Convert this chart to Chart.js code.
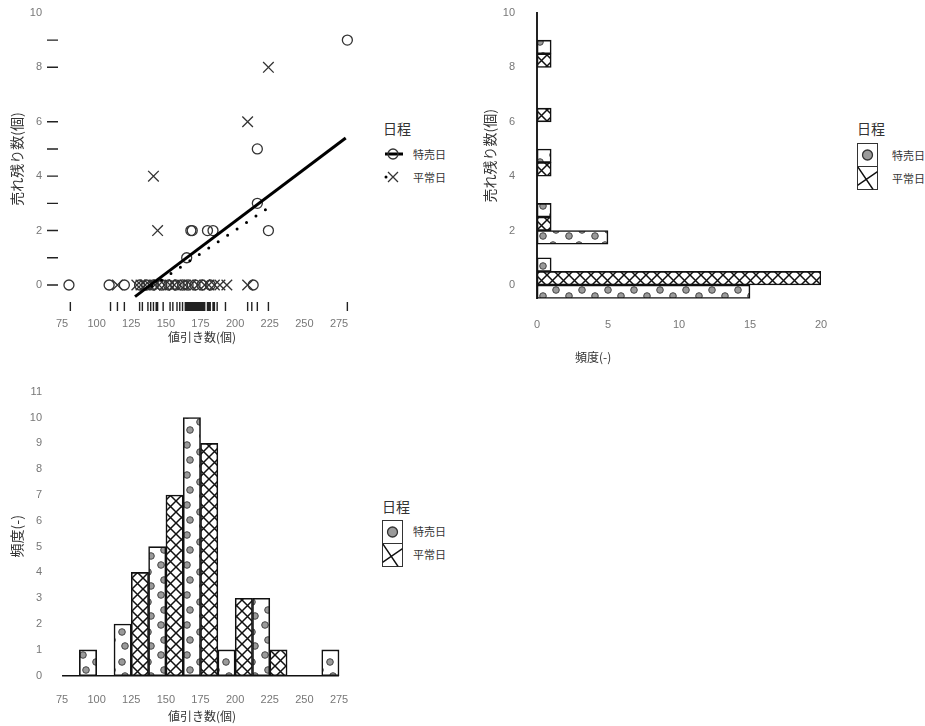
<!DOCTYPE html>
<html>
<head>
<meta charset="utf-8">
<script src="https://cdn.jsdelivr.net/npm/chart.js@4.4.1/dist/chart.umd.min.js"></script>
<style>
  body { margin: 0; background: #fff; width: 925px; height: 726px; position: relative; overflow: hidden;
         font-family: 'Liberation Sans', 'Noto Sans CJK JP', sans-serif; }
  canvas.panel { position: absolute; }
  .txt { position: absolute; color: #333; white-space: nowrap; font-family: 'Noto Sans CJK JP', sans-serif; }
  .lgTitle { font-size: 14px; line-height: 18px; }
  .lgLabel { font-size: 11px; line-height: 14px; }
  .axTitle { font-size: 12px; line-height: 14px; }
  canvas.sw { position: absolute; }
</style>
</head>
<body>
<canvas id="scatter" class="panel" width="370" height="350" style="left:0;top:0"></canvas>
<canvas id="leftover" class="panel" width="370" height="372" style="left:470px;top:0"></canvas>
<canvas id="discount" class="panel" width="370" height="346" style="left:0;top:380px"></canvas>

<!-- legend: scatter -->
<div class="txt lgTitle" style="left:383px;top:119px">日程</div>
<canvas id="swSaleLine" class="sw" width="22" height="14" style="left:383px;top:147px"></canvas>
<div class="txt lgLabel" style="left:413px;top:147px">特売日</div>
<canvas id="swNormalLine" class="sw" width="22" height="14" style="left:383px;top:170px"></canvas>
<div class="txt lgLabel" style="left:413px;top:170px">平常日</div>

<!-- legend: leftover histogram -->
<div class="txt lgTitle" style="left:857px;top:119px">日程</div>
<canvas id="swLeftover" class="sw" width="22" height="48" style="left:856px;top:142px"></canvas>
<div class="txt lgLabel" style="left:892px;top:148px">特売日</div>
<div class="txt lgLabel" style="left:892px;top:171px">平常日</div>
<div class="txt axTitle" style="left:575px;top:350px">頻度(-)</div>

<!-- legend: discount histogram -->
<div class="txt lgTitle" style="left:382px;top:497px">日程</div>
<canvas id="swDiscount" class="sw" width="22" height="48" style="left:381px;top:519px"></canvas>
<div class="txt lgLabel" style="left:413px;top:524px">特売日</div>
<div class="txt lgLabel" style="left:413px;top:547px">平常日</div>

<script>
// ---------- data ----------
const xTicks = [75, 100, 125, 150, 175, 200, 225, 250, 275];
const leftoverTicks = [0, 2, 4, 6, 8, 10];
const freqTicks = [0, 5, 10, 15, 20];
const histTicks = [0, 1, 2, 3, 4, 5, 6, 7, 8, 9, 10, 11];

// 特売日: discount count vs leftover count
const saleX = [80, 109, 120, 131, 136, 141, 147, 152, 157, 162, 166, 171, 176, 182, 213,
               165, 168, 169, 180, 184, 224, 216, 216, 281];
const saleY = [0, 0, 0, 0, 0, 0, 0, 0, 0, 0, 0, 0, 0, 0, 0,
               1, 2, 2, 2, 2, 2, 3, 5, 9];
// 平常日
const normalX = [115, 129, 132, 135, 138, 142, 145, 149, 153, 156, 160, 164, 168, 173, 178, 181, 185, 189, 194, 209,
                 144, 141, 209, 224];
const normalY = [0, 0, 0, 0, 0, 0, 0, 0, 0, 0, 0, 0, 0, 0, 0, 0, 0, 0, 0, 0,
                 2, 4, 6, 8];

// fitted lines
const saleFitX = [127.7, 279.8];
const saleFitY = [-0.43, 5.4];
const normalFitX = [140, 223.7];
const normalFitY = [-0.05, 2.83];

// marginal rugs
const rugX = [81, 110, 115, 120, 131, 133, 137, 139, 141, 143, 144, 148, 153, 155, 158, 160, 162, 164, 165, 166,
              167, 168, 169, 170, 171, 172, 173, 174, 175, 176, 177, 178, 180, 181, 182, 184, 185, 187, 193,
              209, 212, 216, 224, 281];
const rugY = [0, 1, 2, 3, 4, 5, 6, 8, 9];

// frequency of leftover count
const leftoverLevels = [0, 1, 2, 3, 4, 5, 6, 7, 8, 9];
const saleLeftoverFreq = [15, 1, 5, 1, 0, 1, 0, 0, 0, 1];
const normalLeftoverFreq = [20, 0, 1, 0, 1, 0, 1, 0, 1, 0];

// frequency of discount count
const binCenters = [100, 125, 150, 175, 200, 225, 250, 275];
const saleBinFreq = [1, 2, 5, 10, 1, 3, 0, 1];
const normalBinFreq = [0, 4, 7, 9, 3, 1, 0, 0];

// ---------- styling helpers ----------
const latin = "'Liberation Sans', 'Noto Sans CJK JP', sans-serif";
const cjk = "'Noto Sans CJK JP', sans-serif";
const tickFont = { family: latin, size: 11 };
const titleFont = { family: cjk, size: 12 };
const yTitleFont = { family: cjk, size: 14 };
const tickColor = '#777';
const titleColor = '#333';

function fixedTicks(list) {
  return scale => { scale.ticks = list.map(v => ({ value: v })); };
}
// fixed axis thickness, no extra room reserved for overhanging labels
function fixedSize(prop, size) {
  return scale => {
    scale[prop] = size;
    scale.paddingTop = 0; scale.paddingBottom = 0;
    scale.paddingLeft = 0; scale.paddingRight = 0;
  };
}

function dotPattern(ctx) {
  const c = document.createElement('canvas');
  c.width = 26; c.height = 30;
  const g = c.getContext('2d');
  g.fillStyle = '#fff'; g.fillRect(0, 0, c.width, c.height);
  g.fillStyle = '#9a9a9a'; g.strokeStyle = '#444'; g.lineWidth = 1;
  [[5, 5], [18, 12], [8, 20], [21, 26]].forEach(([x, y]) => {
    g.beginPath(); g.arc(x, y, 3.3, 0, Math.PI * 2); g.fill(); g.stroke();
  });
  return ctx.createPattern(c, 'repeat');
}

function hatchPattern(ctx) {
  const s = 11;
  const c = document.createElement('canvas');
  c.width = s; c.height = s;
  const g = c.getContext('2d');
  g.fillStyle = '#fff'; g.fillRect(0, 0, s, s);
  g.strokeStyle = '#111'; g.lineWidth = 1.5;
  for (const d of [-s, 0, s]) {
    g.beginPath();
    g.moveTo(d, 0); g.lineTo(d + s, s);
    g.moveTo(d + s, 0); g.lineTo(d, s);
    g.stroke();
  }
  return ctx.createPattern(c, 'repeat');
}

const noLegend = { legend: { display: false }, tooltip: { enabled: false } };

// ---------- scatter with fitted lines and rugs ----------
const rugPlugin = {
  id: 'rug',
  afterDatasetsDraw(chart) {
    const { ctx, chartArea: a, scales: { x, y } } = chart;
    ctx.save();
    ctx.strokeStyle = '#222';
    ctx.lineWidth = 1.4;
    ctx.beginPath();
    rugX.forEach(v => {
      const px = x.getPixelForValue(v);
      ctx.moveTo(px, a.bottom - 11); ctx.lineTo(px, a.bottom - 2);
    });
    rugY.forEach(v => {
      const py = y.getPixelForValue(v);
      ctx.moveTo(a.left + 2, py); ctx.lineTo(a.left + 13, py);
    });
    ctx.stroke();
    ctx.restore();
  }
};

const toPts = (xs, ys) => xs.map((x, i) => ({ x, y: ys[i] }));

new Chart(document.getElementById('scatter'), {
  type: 'scatter',
  data: {
    datasets: [
      { type: 'line', label: '特売日 回帰', data: toPts(saleFitX, saleFitY), borderColor: '#000', borderWidth: 3,
        pointRadius: 0, fill: false },
      { type: 'line', label: '平常日 回帰', data: toPts(normalFitX, normalFitY), borderColor: '#000', borderWidth: 3,
        borderDash: [0, 11.4], borderCapStyle: 'round', pointRadius: 0, fill: false },
      { label: '特売日', data: toPts(saleX, saleY), pointStyle: 'circle', pointRadius: 5,
        pointBorderWidth: 1.3, borderColor: '#333', backgroundColor: 'rgba(0,0,0,0)' },
      { label: '平常日', data: toPts(normalX, normalY), pointStyle: 'crossRot', pointRadius: 7.5,
        pointBorderWidth: 1.3, borderColor: '#333', backgroundColor: 'rgba(0,0,0,0)' }
    ]
  },
  options: {
    responsive: false, animation: false, devicePixelRatio: 1,
    layout: { autoPadding: false, padding: { left: 0, right: 11, top: 5, bottom: 0 } },
    plugins: noLegend,
    scales: {
      x: {
        type: 'linear', min: 62.7, max: 289.4,
        afterBuildTicks: fixedTicks(xTicks), afterFit: fixedSize('height', 37),
        grid: { display: false, drawTicks: false }, border: { display: false },
        ticks: { font: tickFont, color: tickColor, padding: 4.8, maxRotation: 0, autoSkip: false },
        title: { display: true, text: '値引き数(個)', font: titleFont, color: titleColor, padding: { top: 0, bottom: 5 } }
      },
      y: {
        type: 'linear', min: -1.03, max: 10.29,
        afterBuildTicks: fixedTicks(leftoverTicks), afterFit: fixedSize('width', 45),
        grid: { display: false, drawTicks: false }, border: { display: false },
        ticks: { font: tickFont, color: tickColor, padding: 3, autoSkip: false },
        title: { display: true, text: '売れ残り数(個)', font: yTitleFont, color: titleColor, padding: { top: 8, bottom: 0 } }
      }
    }
  },
  plugins: [rugPlugin]
});

// ---------- leftover count histogram (horizontal) ----------
const ctxB = document.getElementById('leftover').getContext('2d');
new Chart(ctxB, {
  type: 'bar',
  data: {
    datasets: [
      { label: '平常日', data: leftoverLevels.map((lv, i) => ({ y: lv, x: normalLeftoverFreq[i] })),
        backgroundColor: hatchPattern(ctxB), borderColor: '#111', borderWidth: 1.6, borderSkipped: false,
        barPercentage: 1, categoryPercentage: 1 },
      { label: '特売日', data: leftoverLevels.map((lv, i) => ({ y: lv, x: saleLeftoverFreq[i] })),
        backgroundColor: dotPattern(ctxB), borderColor: '#111', borderWidth: 1.6, borderSkipped: false,
        barPercentage: 1, categoryPercentage: 1 }
    ]
  },
  options: {
    indexAxis: 'y',
    responsive: false, animation: false, devicePixelRatio: 1,
    layout: { autoPadding: false, padding: { left: 0, right: 19, top: 13, bottom: 0 } },
    plugins: noLegend,
    scales: {
      x: {
        type: 'linear', min: 0, max: 20, offset: false,
        afterBuildTicks: fixedTicks(freqTicks), afterFit: fixedSize('height', 73.4),
        grid: { display: false, drawTicks: false }, border: { display: false },
        ticks: { font: tickFont, color: tickColor, padding: 19.5, maxRotation: 0, autoSkip: false }
      },
      y: {
        type: 'linear', min: -0.5, max: 10, offset: false,
        afterBuildTicks: fixedTicks(leftoverTicks), afterFit: fixedSize('width', 67),
        grid: { display: false, drawTicks: false }, border: { display: true, color: '#222', width: 2 },
        ticks: { font: tickFont, color: tickColor, padding: 22, autoSkip: false },
        title: { display: true, text: '売れ残り数(個)', font: yTitleFont, color: titleColor, padding: { top: 11.6, bottom: 0 } }
      }
    }
  }
});

// ---------- discount count histogram ----------
const ctxC = document.getElementById('discount').getContext('2d');
new Chart(ctxC, {
  type: 'bar',
  data: {
    datasets: [
      { type: 'line', label: 'base', data: [{ x: xTicks[0], y: 0 }, { x: xTicks[xTicks.length - 1], y: 0 }],
        borderColor: '#111', borderWidth: 1.5, pointRadius: 0, fill: false },
      { label: '特売日', data: binCenters.map((c, i) => ({ x: c, y: saleBinFreq[i] })),
        backgroundColor: dotPattern(ctxC), borderColor: '#111', borderWidth: 1.6, borderSkipped: false,
        barPercentage: 1, categoryPercentage: 1 },
      { label: '平常日', data: binCenters.map((c, i) => ({ x: c, y: normalBinFreq[i] })),
        backgroundColor: hatchPattern(ctxC), borderColor: '#111', borderWidth: 1.6, borderSkipped: false,
        barPercentage: 1, categoryPercentage: 1 }
    ]
  },
  options: {
    responsive: false, animation: false, devicePixelRatio: 1,
    layout: { autoPadding: false, padding: { left: 0, right: 11, top: 4, bottom: 0 } },
    plugins: noLegend,
    scales: {
      x: {
        type: 'linear', min: 62.7, max: 289.4, offset: false,
        afterBuildTicks: fixedTicks(xTicks), afterFit: fixedSize('height', 37.4),
        grid: { display: false, drawTicks: false }, border: { display: false },
        ticks: { font: tickFont, color: tickColor, padding: 4.8, maxRotation: 0, autoSkip: false },
        title: { display: true, text: '値引き数(個)', font: titleFont, color: titleColor, padding: { top: 0, bottom: 2.8 } }
      },
      y: {
        type: 'linear', min: -0.5, max: 11.3,
        afterBuildTicks: fixedTicks(histTicks), afterFit: fixedSize('width', 45),
        grid: { display: false, drawTicks: false }, border: { display: false },
        ticks: { font: tickFont, color: tickColor, padding: 3, autoSkip: false },
        title: { display: true, text: '頻度(-)', font: yTitleFont, color: titleColor, padding: { top: 8, bottom: 0 } }
      }
    }
  }
});

// ---------- legend keys ----------
(function () {
  // fitted line + circle
  let g = document.getElementById('swSaleLine').getContext('2d');
  g.strokeStyle = '#000'; g.lineWidth = 3;
  g.beginPath(); g.moveTo(2, 7); g.lineTo(20, 7); g.stroke();
  g.lineWidth = 1.3; g.strokeStyle = '#333';
  g.beginPath(); g.arc(10, 7, 5, 0, Math.PI * 2); g.stroke();

  // dotted line + cross
  g = document.getElementById('swNormalLine').getContext('2d');
  g.fillStyle = '#000';
  g.beginPath(); g.arc(3, 7, 1.5, 0, Math.PI * 2); g.fill();
  g.strokeStyle = '#333'; g.lineWidth = 1.3;
  g.beginPath(); g.moveTo(5, 2); g.lineTo(15, 12); g.moveTo(15, 2); g.lineTo(5, 12); g.stroke();

  function boxKey(id) {
    const k = document.getElementById(id).getContext('2d');
    const w = 20, h = 23, x0 = 1.5, y0 = 1.5;
    k.strokeStyle = '#333'; k.lineWidth = 1;
    k.strokeRect(x0, y0, w, h); k.strokeRect(x0, y0 + h, w, h);
    k.fillStyle = '#9a9a9a'; k.strokeStyle = '#333'; k.lineWidth = 1.3;
    k.beginPath(); k.arc(x0 + w / 2, y0 + h / 2, 5, 0, Math.PI * 2); k.fill(); k.stroke();
    k.strokeStyle = '#111'; k.lineWidth = 1.4;
    k.save(); k.beginPath(); k.rect(x0, y0 + h, w, h); k.clip();
    k.beginPath();
    k.moveTo(x0, y0 + h); k.lineTo(x0 + w * 0.78, y0 + 2 * h);
    k.moveTo(x0 + w, y0 + h + h * 0.22); k.lineTo(x0, y0 + h + h * 0.82);
    k.stroke(); k.restore();
  }
  boxKey('swLeftover');
  boxKey('swDiscount');
})();
</script>
</body>
</html>
